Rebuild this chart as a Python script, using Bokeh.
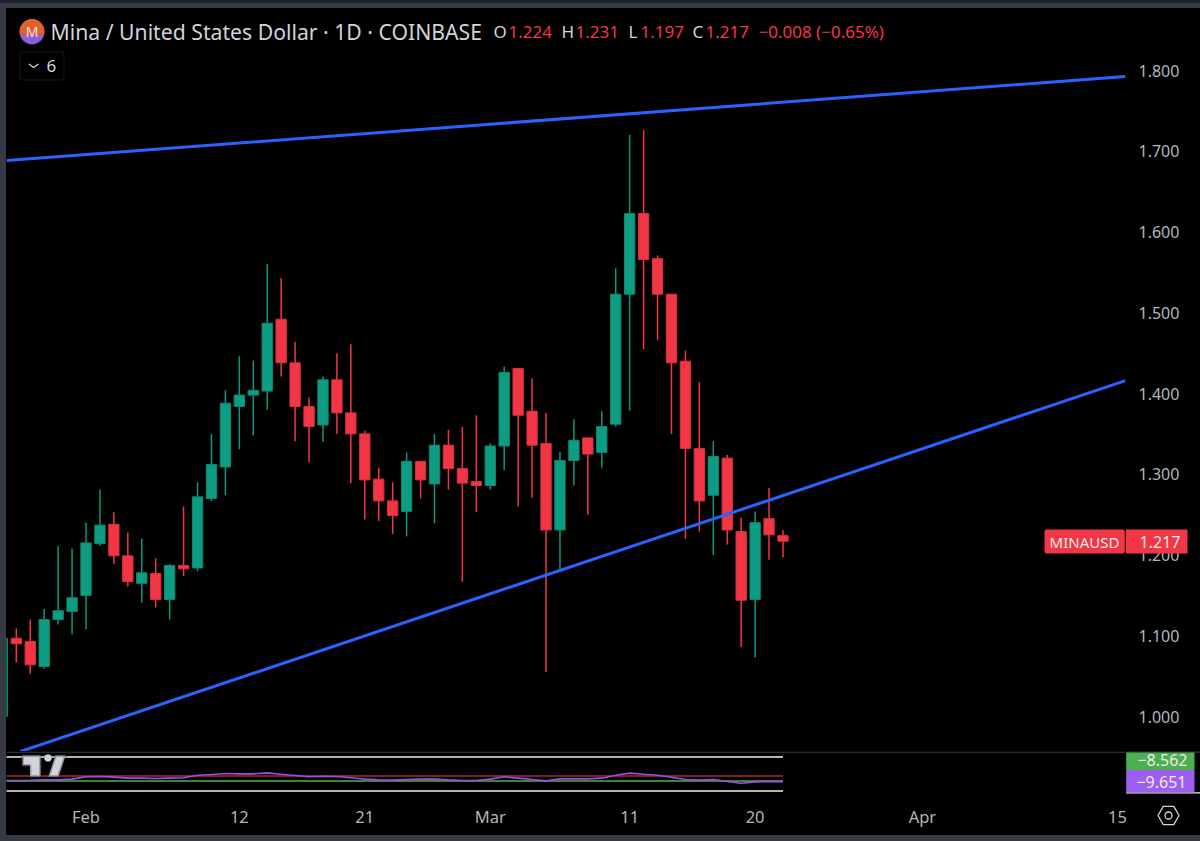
from bokeh.plotting import figure
from bokeh.layouts import column
from bokeh.models import (BoxAnnotation, Label, PolyAnnotation, Range1d, FixedTicker,
                          NumeralTickFormatter, ColumnDataSource)
from bokeh.core.properties import value
from bokeh.embed import file_html
from bokeh.resources import INLINE
import math

FONT = "Noto Sans"
# one candle per day; day 6 = 1 Feb, day 35 = 1 Mar
opens = [1.000,1.097,1.093,1.062,1.120,1.130,1.150,1.214,1.238,1.199,1.165,1.177,1.145,1.187,1.184,1.270,1.309,1.384,1.398,1.403,
         1.492,1.438,1.384,1.361,1.417,1.376,1.350,1.294,1.267,1.254,1.316,1.288,1.336,1.307,1.291,1.286,1.335,1.431,1.378,1.338,
         1.231,1.317,1.345,1.327,1.362,1.523,1.623,1.567,1.523,1.440,1.332,1.274,1.320,1.229,1.145,1.245,1.224]
highs = [1.097,1.109,1.120,1.133,1.211,1.208,1.240,1.281,1.253,1.228,1.220,1.196,1.189,1.260,1.290,1.350,1.404,1.446,1.441,1.560,
         1.543,1.464,1.395,1.421,1.450,1.461,1.354,1.308,1.290,1.327,1.316,1.350,1.355,1.359,1.373,1.338,1.433,1.431,1.419,1.376,
         1.328,1.368,1.345,1.378,1.555,1.720,1.726,1.571,1.523,1.453,1.414,1.341,1.324,1.246,1.254,1.283,1.231]
lows = [1.000,1.067,1.053,1.059,1.114,1.102,1.108,1.211,1.189,1.161,1.141,1.135,1.120,1.174,1.180,1.267,1.274,1.331,1.348,1.380,
        1.421,1.341,1.315,1.340,1.350,1.289,1.244,1.242,1.226,1.223,1.270,1.239,1.281,1.167,1.253,1.281,1.305,1.260,1.271,1.055,
        1.179,1.286,1.250,1.308,1.359,1.379,1.455,1.466,1.350,1.220,1.229,1.200,1.213,1.086,1.073,1.194,1.197]
closes = [1.097,1.090,1.064,1.120,1.131,1.147,1.215,1.237,1.199,1.167,1.178,1.145,1.187,1.183,1.272,1.312,1.388,1.398,1.404,1.487,
          1.438,1.384,1.359,1.417,1.376,1.350,1.293,1.267,1.249,1.316,1.293,1.336,1.307,1.289,1.286,1.335,1.426,1.373,1.336,1.231,
          1.317,1.342,1.325,1.359,1.523,1.623,1.566,1.523,1.438,1.332,1.267,1.322,1.231,1.144,1.240,1.225,1.217]
osc = [-7.7,-7.7,-7.4,-6.6,-6.6,-5.4,-1.4,-0.9,-2.0,-3.7,-3.7,-4.3,-3.7,-3.1,1.4,2.6,4.3,3.7,3.7,5.4,
       3.1,0.9,-1.4,-0.3,-0.9,-3.1,-5.4,-6.6,-7.1,-6.0,-5.4,-5.4,-6.6,-7.7,-7.7,-5.4,-1.4,-3.7,-6.0,-8.3,
       -4.9,-4.9,-4.9,-3.7,1.4,4.9,3.1,1.4,-2.0,-6.0,-7.1,-6.0,-9.4,-12.3,-10.0,-9.5,-9.651]
osc_signal = -8.562
band_levels = [32.5, -25.7]
zero_level = 0
upper_trend = ([0.3, 80.57], [1.6885, 1.7926])
lower_trend = ([1.3, 80.57], [0.9567, 1.416])
price_ticks = [1.0,1.1,1.2,1.3,1.4,1.5,1.6,1.7,1.8]
time_ticks = {6:"Feb",17:"12",26:"21",35:"Mar",45:"11",54:"20",66:"Apr",80:"15"}

W = 1194; H_MAIN = 743; H_IND = 84
XLO, XHI = 0.297, 80.57
YLO, YHI = 0.95666, 1.8768
INDLO_PX, INDHI_PX = 798.0, 751.0
SCALE = 0.584
ILO, IHI = (775.5-INDLO_PX)/SCALE, (775.5-INDHI_PX)/SCALE

BG = "#000000"
TEXT = "#d1d4dc"; AX = "#b2b5be"; RED = "#f23645"; GREEN = "#0e9d82"; TAGTEXT = "#f2eaea"

def X(px): return XLO + (px-6)*(XHI-XLO)/1119.0
def Y(py): return YHI - (py-8)*(YHI-YLO)/743.0
def IY(py): return ILO + (INDLO_PX-py)*(IHI-ILO)/(INDLO_PX-INDHI_PX)

p = figure(width=W, height=H_MAIN, x_range=Range1d(XLO,XHI), y_range=Range1d(YLO,YHI),
           output_backend="svg", toolbar_location=None, x_axis_location=None, y_axis_location="right",
           min_border_left=0, min_border_top=0, min_border_bottom=0, min_border_right=75,
           background_fill_color=BG, border_fill_color=BG, outline_line_color=None)
p.grid.visible = False
ax = p.yaxis[0]
ax.ticker = FixedTicker(ticks=price_ticks)
ax.formatter = NumeralTickFormatter(format="0.000")
ax.major_tick_line_color = None; ax.minor_tick_line_color = None; ax.axis_line_color = None
ax.major_label_text_color = AX; ax.major_label_text_font = FONT; ax.major_label_text_font_size = "16px"
ax.major_label_standoff = 7

days = list(range(len(opens)))
up = [c >= o for o, c in zip(opens, closes)]
src = ColumnDataSource(dict(x=days, o=opens, h=highs, l=lows, c=closes,
    top=[max(o,c) for o,c in zip(opens,closes)], bot=[min(o,c) for o,c in zip(opens,closes)],
    wick=["#089981" if u else "#f23645" for u in up],
    fill=[GREEN if u else RED for u in up],
    edge=["#0b8a72" if u else "#d9303e" for u in up]))
p.segment("x","h","x","l",source=src,line_color="wick",line_width=1.5)
p.vbar(x="x",top="top",bottom="bot",width=0.74,source=src,fill_color="fill",line_color="edge",line_width=1)
p.line(*upper_trend, line_color="#2962ff", line_width=3)
p.line(*lower_trend, line_color="#2962ff", line_width=3)

def lab(x, y, s, color=TEXT, size=20, align="left"):
    p.add_layout(Label(x=X(x), y=Y(y), text=s, text_color=color, text_font=FONT, text_font_size=f"{size}px",
                       text_baseline="middle", text_align=align, level="overlay"))

# header
lab(50, 31, "Mina  / United States Dollar · 1D · COINBASE", size=21.2)
for x, s, c in [(493,"O",TEXT),(508,"1.224",RED),(561,"H",TEXT),(575,"1.231",RED),(628,"L",TEXT),(640,"1.197",RED),
                (692,"C",TEXT),(705,"1.217",RED),(758,"−0.008 (−0.65%)",RED)]:
    lab(x, 31, s, color=c, size=17)

# coin logo
cx, cy, r = 31.5, 31, 12.5
for k in range(25):
    top = cy-r+k; bottom = top+1.2; mid = top+0.5
    half = math.sqrt(max(r*r-(mid-cy)**2, 0))
    t = k/24
    t2 = 0 if t<0.55 else min((t-0.55)/0.2,1)
    col = "#%02x%02x%02x" % (int(226+(136-226)*t2), 96, int(44+(224-44)*t2))
    p.add_layout(BoxAnnotation(left=X(cx-half), right=X(cx+half), top=Y(top), bottom=Y(bottom),
                               fill_color=col, fill_alpha=1, line_color=None, level="overlay"))
lab(cx, 31, "M", color="#f0e4e0", size=14, align="center")

# collapsed-indicators button
p.add_layout(BoxAnnotation(left=X(19.5), right=X(63.5), top=Y(51.5), bottom=Y(79.5), fill_alpha=0,
                           line_color="#50535e", line_width=1, border_radius=3))
p.line([X(28.5),X(33),X(38)], [Y(63.5),Y(67),Y(63.5)], line_color=TEXT, line_width=1.3)
lab(46, 65.5, "6", size=17)

# symbol tag (the price half sits in the overlay)
p.add_layout(BoxAnnotation(left=X(1044), right=X(1124.3), top=Y(529), bottom=Y(553), fill_color=RED, fill_alpha=1,
                           line_color=None, border_radius=2, level="overlay"))
lab(1084, 541.5, "MINAUSD", color=TAGTEXT, size=15, align="center")

# indicator pane
q = figure(width=W, height=H_IND, x_range=p.x_range, y_range=Range1d(ILO,IHI),
           output_backend="svg", toolbar_location=None, y_axis_location=None, x_axis_location="below",
           min_border_left=0, min_border_top=0, min_border_bottom=37, min_border_right=75,
           background_fill_color=BG, border_fill_color=BG, outline_line_color=None)
q.grid.visible = False
xa = q.xaxis[0]
xa.ticker = FixedTicker(ticks=list(time_ticks))
xa.major_label_overrides = {k: v for k, v in time_ticks.items()}
xa.major_tick_line_color = None; xa.minor_tick_line_color = None; xa.axis_line_color = None
xa.major_label_text_color = AX; xa.major_label_text_font = FONT; xa.major_label_text_font_size = "16.5px"
xa.major_label_standoff = 0

end = len(osc)-1
q.line([0,end],[band_levels[0]]*2,line_color="#f0f0f0",line_width=1.6)
q.line([0,end],[band_levels[1]]*2,line_color="#f0f0f0",line_width=1.6)
q.line([0,end],[zero_level]*2,line_color="#f0433f",line_width=1.2)
q.line([0,end],[osc_signal]*2,line_color="#4caf50",line_width=1.4)
q.line(days, osc, line_color="#9c4fe8", line_width=1.6)

# pane separator
q.add_layout(BoxAnnotation(left=X(6), right=X(1125), top=IY(751), bottom=IY(752.2), fill_color="#363a45", fill_alpha=1, line_color=None))
# TradingView mark
for pts in [[(22,755),(40,755),(40,776),(29.5,776),(29.5,765),(22,765)], [(55,755),(65,755),(58,776),(48,776)]]:
    q.add_layout(PolyAnnotation(xs=[X(a) for a,_ in pts], ys=[IY(b) for _,b in pts], fill_color=TEXT, fill_alpha=1,
                                line_color="#2a2e39", line_width=3))
dot = [(47.5+3.8*math.cos(a*math.pi/8), 757.5+3.8*math.sin(a*math.pi/8)) for a in range(16)]
q.add_layout(PolyAnnotation(xs=[X(a) for a,_ in dot], ys=[IY(b) for _,b in dot], fill_color=TEXT, fill_alpha=1,
                            line_color="#2a2e39", line_width=1))

# overlay whose frame lines up with the panes and is shifted over the right-hand gutter,
# for the price tags and the settings icon; its x and y are page pixels
r_fig = figure(width=1200, height=841, x_range=Range1d(75,1200), y_range=Range1d(841,0),
               output_backend="svg", toolbar_location=None, x_axis_location=None, y_axis_location=None,
               min_border=0, min_border_right=75, background_fill_alpha=0, border_fill_alpha=0, outline_line_color=None,
               styles={"position":"absolute","left":"75px","top":"0px"})
r_fig.grid.visible = False
def tag(l, rr, t, b, c):
    r_fig.quad(left=[l], right=[rr], top=[t], bottom=[b], fill_color=c, line_color=None)
def txt(x, y, s, align="right", size=16):
    r_fig.text(x=[x], y=[y], text=[s], text_color=TAGTEXT, text_font=value(FONT), text_font_size=f"{size}px",
               text_align=align, text_baseline="middle")
tag(1125, 1200, 751, 752.2, "#363a45")
tag(1125.3, 1187, 529, 553, RED)
txt(1180, 541.5, "1.217")
tag(1125.7, 1200, 791.7, 793, "#f0f0f0")
tag(1125.7, 1194, 752, 769.5, "#4caf50")
tag(1125.7, 1194, 769.5, 792, "#9c5ff0")
txt(1187, 759.5, "−8.562")
txt(1186, 781, "−9.651")
# settings icon
hexa = [(1168+10.5*math.cos(a*math.pi/3), 815+10.5*math.sin(a*math.pi/3)) for a in range(6)]
r_fig.patch([a for a,_ in hexa], [b for _,b in hexa], fill_alpha=0, line_color=TEXT, line_width=1.3)
r_fig.scatter([1168],[815], marker="circle", size=7, fill_alpha=0, line_color=TEXT, line_width=1.3)

page = column(p, q, r_fig, spacing=0, styles={"position":"fixed","left":"0","top":"0","width":"1200px","height":"841px",
              "background":"linear-gradient(#000,#000) 6px 8px / 1194px 827px no-repeat, linear-gradient(#1e222d 0 3px, #363a45 3px)",
              "padding":"8px 0 6px 6px","box-sizing":"border-box","overflow":"hidden"})
open("out.html","w").write(file_html(page, INLINE))
